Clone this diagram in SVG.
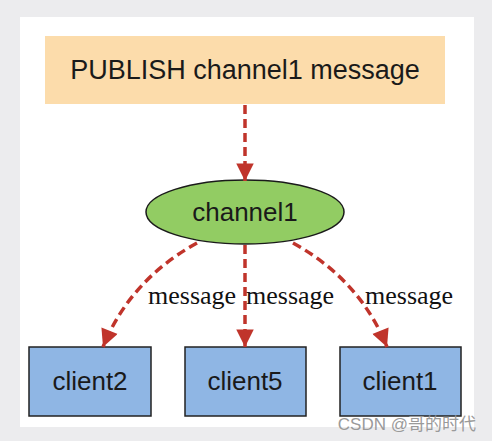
<svg xmlns="http://www.w3.org/2000/svg" width="492" height="441" viewBox="0 0 492 441">
<defs>
<style>
.lbl{font-family:"Liberation Sans",Arial,sans-serif;font-size:26px;fill:#1a1a1a;text-anchor:middle}
.edge{fill:none;stroke:#c0342b;stroke-width:3.5;stroke-dasharray:9,5}
.elbl{font-family:"Liberation Serif","Times New Roman",serif;font-size:26px;fill:#111}
.client{fill:#8fb6e4;stroke:#222;stroke-width:1.5}
</style>
<marker id="ah" viewBox="0 0 10 10" refX="10" refY="5" markerWidth="6" markerHeight="5" markerUnits="strokeWidth" orient="auto">
<path d="M0,0 L10,5 L0,10 z" fill="#c0342b"/>
</marker>
</defs>
<rect width="492" height="441" fill="#ececee"/>
<rect x="20" y="17" width="454" height="410" fill="#ffffff"/>
<g id="publish">
<rect x="45" y="36" width="400" height="68" fill="#fcdcab"/>
<text class="lbl" x="245" y="79" style="font-size:27px">PUBLISH channel1 message</text>
</g>
<g id="channel1">
<ellipse cx="245" cy="212" rx="99" ry="32" fill="#92cc63" stroke="#1a1a1a" stroke-width="1.5"/>
<text class="lbl" x="245" y="221">channel1</text>
</g>
<g id="client2">
<rect class="client" x="29" y="347" width="122" height="69"/>
<text class="lbl" x="90" y="390">client2</text>
</g>
<g id="client5">
<rect class="client" x="185" y="347" width="121" height="69"/>
<text class="lbl" x="245" y="390">client5</text>
</g>
<g id="client1">
<rect class="client" x="340" y="347" width="121" height="69"/>
<text class="lbl" x="400" y="390">client1</text>
</g>
<g id="connectors">
<path class="edge" d="M245,105 L245,181" marker-end="url(#ah)"/>
<path class="edge" d="M197,243 Q130,280 103,347" marker-end="url(#ah)"/>
<path class="edge" d="M245,245 L245,347" marker-end="url(#ah)"/>
<path class="edge" d="M293,243 Q360,280 387,347" marker-end="url(#ah)"/>
<text class="elbl" x="148" y="304">message</text>
<text class="elbl" x="246" y="304">message</text>
<text class="elbl" x="365" y="304">message</text>
</g>
<text x="476" y="430" text-anchor="end" font-family="'Liberation Sans','Noto Sans CJK SC',sans-serif" font-size="17" fill="#9a9a9a">CSDN @哥的时代</text>
</svg>
